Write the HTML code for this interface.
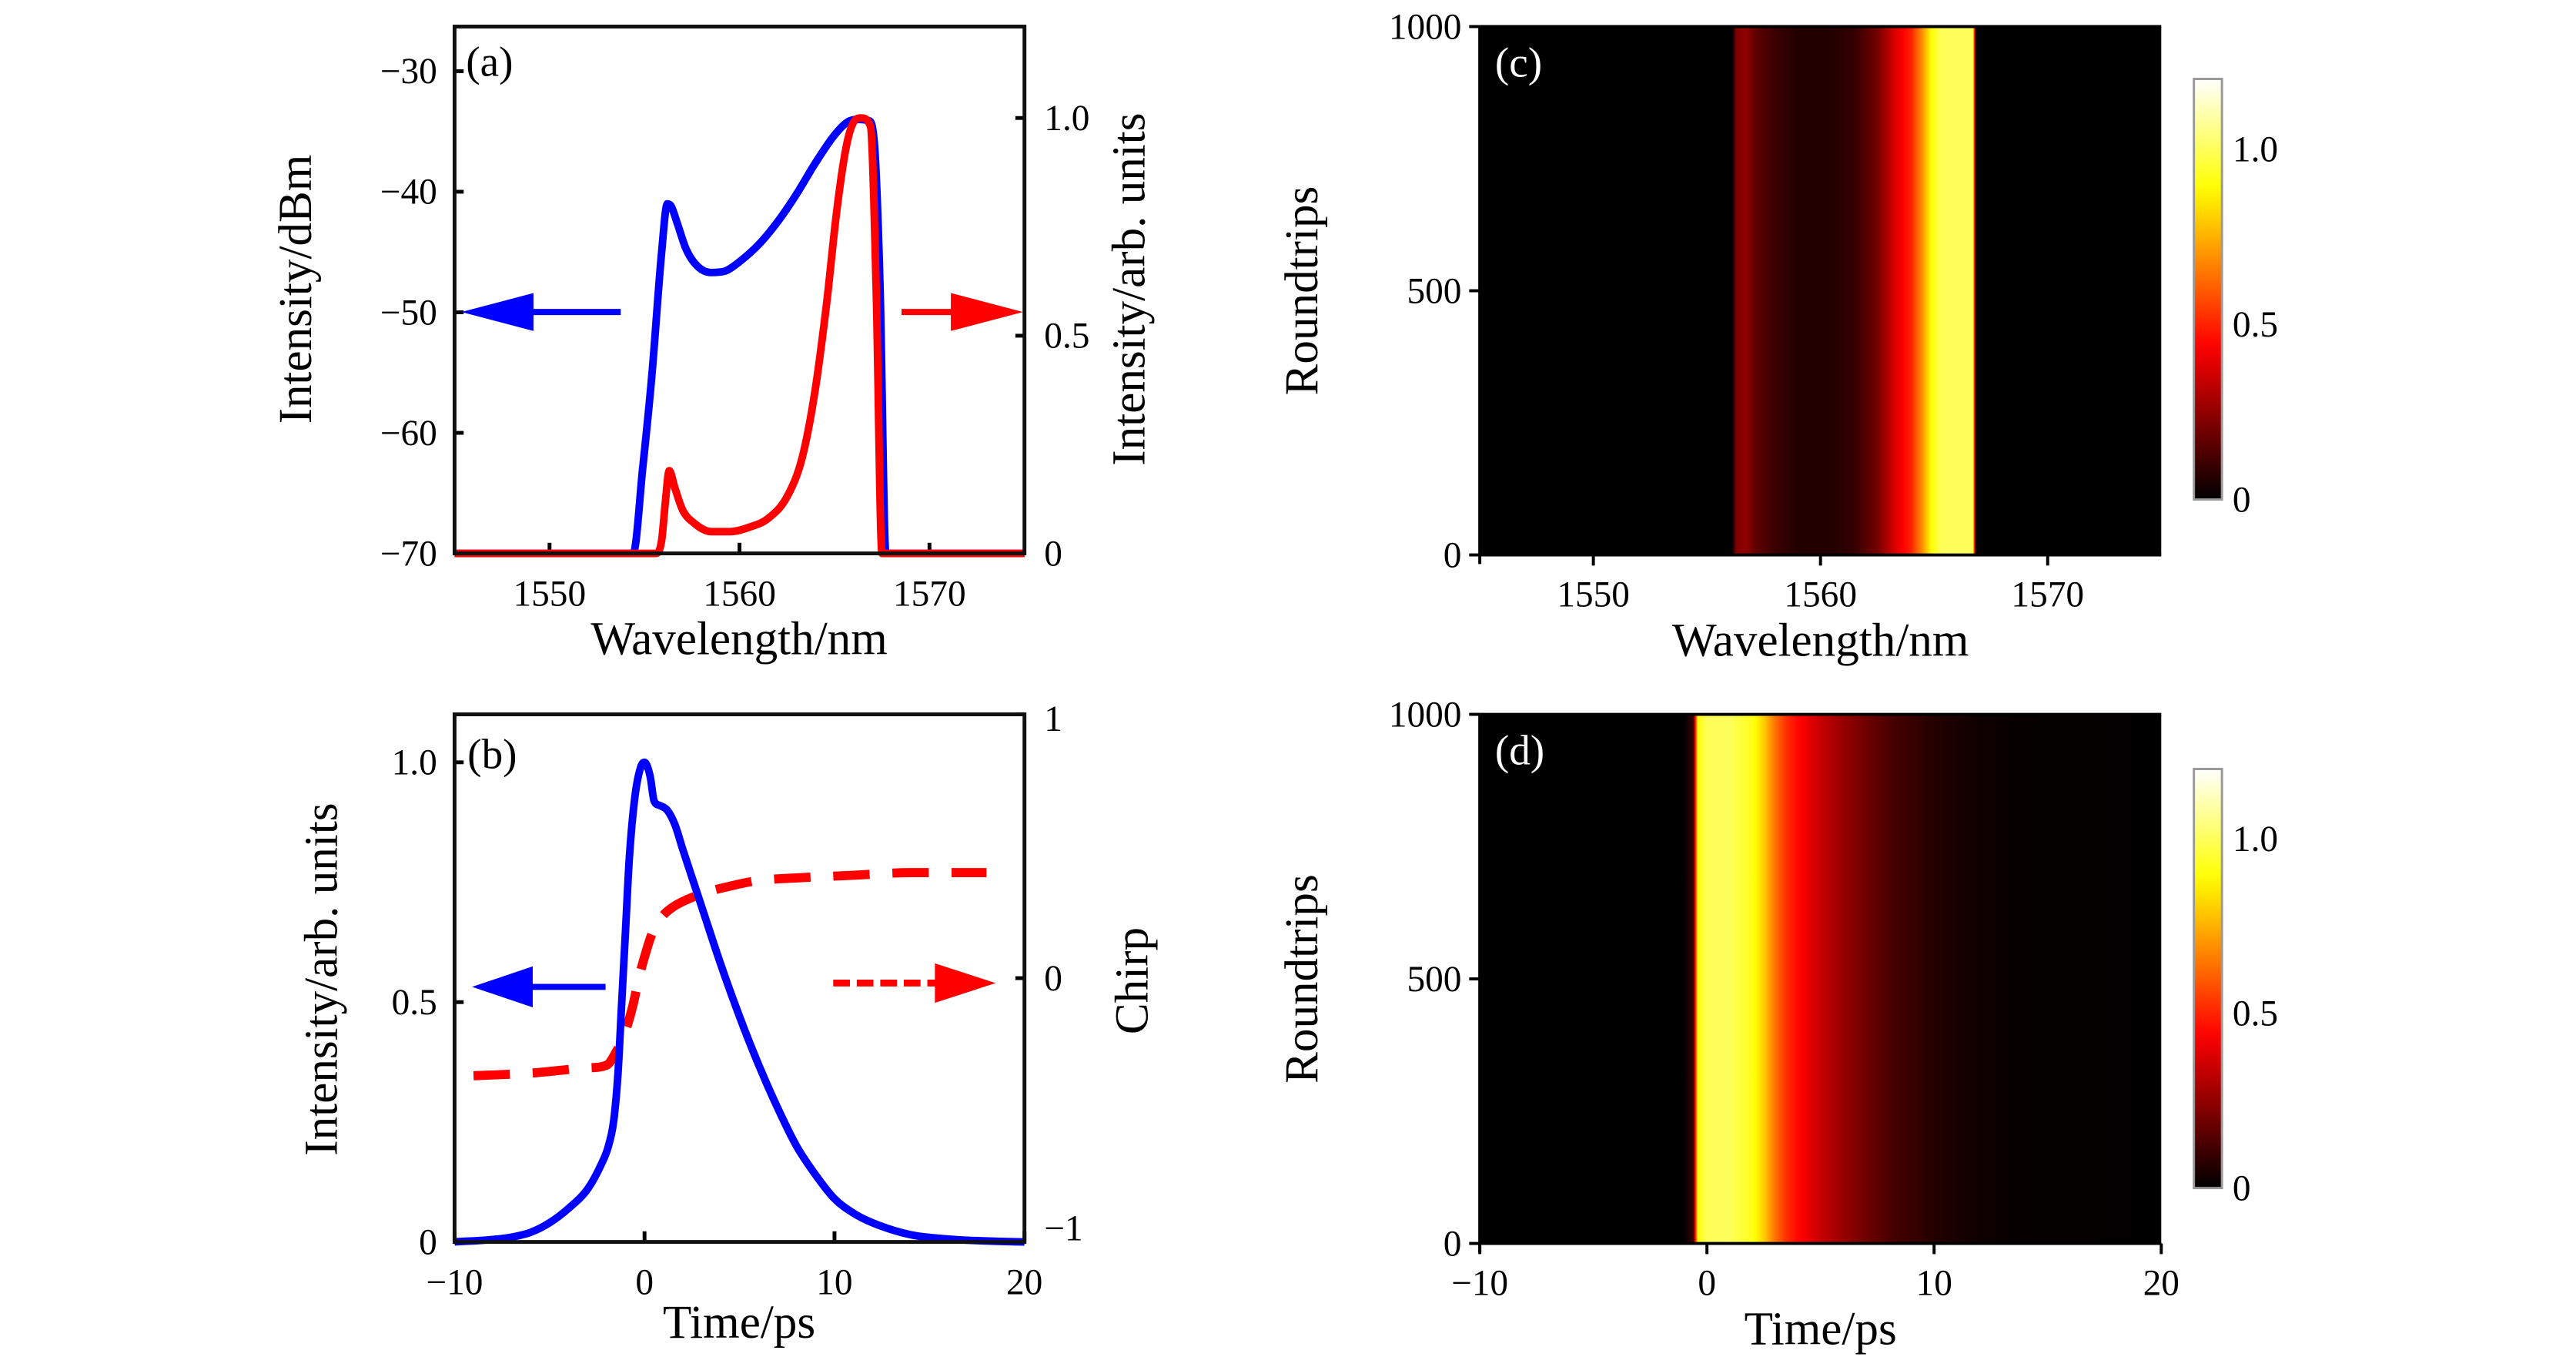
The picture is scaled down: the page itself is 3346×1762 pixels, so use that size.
<!DOCTYPE html>
<html><head><meta charset="utf-8">
<style>
html,body{margin:0;padding:0;background:#fff;}
svg{display:block;font-family:"Liberation Serif",serif;}
</style></head>
<body>
<svg id="fig" width="3346" height="1762" viewBox="0 0 3346 1762" xmlns="http://www.w3.org/2000/svg">
<defs id="defs"></defs>
<g id="root" transform="scale(0.9857)"></g>
</svg>
<script>
// Panel (a) data
const specWl = [1545,1554.4,1554.9,1555.4,1555.9,1556.2,1556.4,1556.7,1557.2,1557.8,1558.5,1559.2,1560,1561,1562,1563,1564,1565,1565.7,1566.2,1566.8,1567.1,1567.4,1567.7,1568,1575];
const specDbm = [-70,-70,-63,-55,-45,-41,-41.2,-42.5,-44.8,-46.2,-46.7,-46.6,-45.8,-44.4,-42.5,-40.2,-37.6,-35.3,-34.2,-34,-34.1,-36,-48,-70,-70,-70];
const specLinWl = [1545,1555.6,1555.9,1556.1,1556.3,1556.6,1557,1557.6,1558.5,1559.5,1560.5,1561.5,1562.5,1563.3,1564,1564.6,1565.1,1565.6,1566,1566.4,1566.9,1567.2,1567.5,1575];
const specLin = [0,0,0.03,0.12,0.19,0.15,0.1,0.07,0.05,0.05,0.06,0.08,0.13,0.22,0.38,0.58,0.78,0.93,0.99,1.0,0.98,0.6,0,0];
const aLeftTicks = [-30,-40,-50,-60,-70];
const aRightTicks = [0,0.5,1.0];
const aRightTickLabels = ["0","0.5","1.0"];
const wlTicks = [1550,1560,1570];
// Panel (b) data
const pulseT = [-10,-8,-7,-6,-5,-4,-3,-2.3,-1.9,-1.6,-1.4,-1.2,-1,-0.8,-0.5,-0.2,0,0.3,0.5,0.8,1.2,1.6,2,2.5,3,4,5,6,7,8,9,10,11,12,14,16,18,20];
const pulseI = [0,0.005,0.01,0.02,0.04,0.07,0.11,0.16,0.2,0.26,0.35,0.5,0.65,0.8,0.93,0.99,1.0,0.97,0.92,0.91,0.9,0.87,0.82,0.76,0.7,0.58,0.47,0.37,0.28,0.2,0.14,0.09,0.06,0.04,0.015,0.006,0.002,0];
const chirpT = [-9,-6,-3,-2,-1.5,-1,-0.6,-0.3,0,0.3,0.6,1,1.5,2,3,4,6,8,11,14,18];
const chirpV = [-0.37,-0.36,-0.34,-0.33,-0.28,-0.2,-0.1,0,0.08,0.15,0.2,0.24,0.27,0.29,0.32,0.34,0.37,0.38,0.39,0.4,0.4];
const bLeftTicks = [0,0.5,1.0];
const bLeftTickLabels = ["0","0.5","1.0"];
const bRightTicks = [-1,0,1];
const bRightTickLabels = ["\u22121","0","1"];
const timeTicks = [-10,0,10,20];
const timeTickLabels = ["\u221210","0","10","20"];
// Panel (c) data: heatmap intensity profile vs wavelength
const mapWl = [1545,1556.1,1556.3,1556.7,1557.2,1558,1559,1560.5,1561.5,1562.5,1563.3,1564,1564.5,1564.9,1565.3,1566,1566.7,1566.85,1575];
const mapWlVal = [0,0,0.22,0.25,0.16,0.1,0.06,0.06,0.09,0.2,0.38,0.5,0.7,0.9,1.0,1.0,1.0,0,0];
// Panel (d) data: heatmap intensity profile vs time
const mapT = [-10,-1,-0.6,-0.4,0,1,2,2.5,3,3.5,4,5,6,7,8,10,12,14,20];
const mapTVal = [0,0,0.1,0.9,1.0,1.0,0.92,0.8,0.64,0.52,0.45,0.34,0.26,0.19,0.13,0.06,0.025,0.01,0];
const rtTicks = [0,500,1000];
const cbTicks = [0,0.5,1.0];
const cbTickLabels = ["0","0.5","1.0"];

const NS = "http://www.w3.org/2000/svg";
const svg = document.getElementById('root');
const defs = document.getElementById('defs');
function el(tag, attrs, parent){
  const e = document.createElementNS(NS, tag);
  for (const k in attrs) e.setAttribute(k, attrs[k]);
  (parent||svg).appendChild(e);
  return e;
}
function lin(d0,d1,r0,r1){ return v => r0 + (v-d0)/(d1-d0)*(r1-r0); }
function txt(x,y,s,anchor,size,fill,rot,name){
  const t = el('text',{x:x,y:y,'font-size':size||44,'text-anchor':anchor||'middle',fill:fill||'#000'});
  if(rot) t.setAttribute('transform','rotate(-90 '+x+' '+y+')');
  t.textContent = s;
  
  
  return t;
}
function hot(v){ const n = Math.max(0,Math.min(1,v/1.2));
  const r = Math.min(1,n/0.365), g = Math.max(0,Math.min(1,(n-0.365)/0.375)), b = Math.max(0,Math.min(1,(n-0.74)/0.26));
  return 'rgb('+Math.round(r*255)+','+Math.round(g*255)+','+Math.round(b*255)+')'; }
// monotone cubic (Fritsch-Carlson) path, no overshoot
function path(xs,ys,fx,fy){
  const X = xs.map(fx), Y = ys.map(fy), n = X.length;
  const d = [], m = new Array(n);
  for(let i=0;i<n-1;i++) d.push((Y[i+1]-Y[i])/(X[i+1]-X[i]));
  m[0]=d[0]; m[n-1]=d[n-2];
  for(let i=1;i<n-1;i++){ m[i] = (d[i-1]*d[i]<=0) ? 0 : (d[i-1]+d[i])/2; }
  for(let i=0;i<n-1;i++){
    if(d[i]===0){ m[i]=0; m[i+1]=0; continue; }
    const a=m[i]/d[i], b=m[i+1]/d[i], s=a*a+b*b;
    if(s>9){ const t=3/Math.sqrt(s); m[i]=t*a*d[i]; m[i+1]=t*b*d[i]; }
  }
  let p='M'+X[0].toFixed(1)+','+Y[0].toFixed(1);
  for(let i=0;i<n-1;i++){
    const h=(X[i+1]-X[i])/3;
    p+='C'+(X[i]+h).toFixed(1)+','+(Y[i]+m[i]*h).toFixed(1)+' '+(X[i+1]-h).toFixed(1)+','+(Y[i+1]-m[i+1]*h).toFixed(1)+' '+X[i+1].toFixed(1)+','+Y[i+1].toFixed(1);
  }
  return p;
}
const TF=48, TT=62;

// ---------- Panel (a)
(function(){
  const L=599,R=1350,T=35,B=729;
  const x = lin(1545,1575,L,R), yl = lin(-70,-26.3,B,T), yr = lin(0,1.21,B,T);
  const g = el('g',{});  
  wlTicks.forEach(v=>{ const t=el('line',{x1:x(v),x2:x(v),y1:B,y2:B-14,stroke:'#000','stroke-width':5},g);  
    txt(x(v),798,String(v),'middle',TF,'#000',false,'x-tick-label'); });
  aLeftTicks.forEach(v=>{ const t=el('line',{x1:L,x2:L+12,y1:yl(v),y2:yl(v),stroke:'#000','stroke-width':5},g);  
    txt(576,yl(v)+16,'\u2212'+Math.abs(v),'end',TF,'#000',false,'y-left-tick-label'); });
  aRightTicks.forEach((v,i)=>{ const t=el('line',{x1:R,x2:R-12,y1:yr(v),y2:yr(v),stroke:'#000','stroke-width':5},g);  
    txt(1376,yr(v)+16,aRightTickLabels[i],'start',TF,'#000',false,'y-right-tick-label'); });
  const pb=el('path',{d:path(specWl,specDbm,x,yl),fill:'none',stroke:'#0000ff','stroke-width':10,'stroke-linejoin':'round'},g);
   
  const pr=el('path',{d:path(specLinWl,specLin,x,yr),fill:'none',stroke:'#ff0000','stroke-width':10,'stroke-linejoin':'round'},g);
   
  const f=el('rect',{x:L,y:T,width:R-L,height:B-T,fill:'none',stroke:'#111','stroke-width':5},g);
   
  const a1=el('g',{},g);  
  el('line',{x1:818,y1:411,x2:690,y2:411,stroke:'#0000ff','stroke-width':8},a1);
  el('polygon',{points:'608,411 703,386 703,436',fill:'#0000ff'},a1);
  const a2=el('g',{},g);  
  el('line',{x1:1188,y1:411,x2:1280,y2:411,stroke:'#ff0000','stroke-width':8},a2);
  el('polygon',{points:'1348,411 1253,386 1253,436',fill:'#ff0000'},a2);
  txt(614,100,'(a)','start',56,'#000',false,'panel-label-a');
  txt(410,381,'Intensity/dBm','middle',TT,'#000',true,'y-left-title');
  txt(1508,381,'Intensity/arb. units','middle',TT,'#000',true,'y-right-title');
  txt(974,862,'Wavelength/nm','middle',TT,'#000',false,'x-title');
})();

// ---------- Panel (b)
(function(){
  const L=599,R=1350,T=941,B=1636;
  const x = lin(-10,20,L,R), yl = lin(0,1.1,B,T), yr = lin(-1,1,B,T);
  const g = el('g',{});  
  timeTicks.forEach((v,i)=>{ const t=el('line',{x1:x(v),x2:x(v),y1:B,y2:B-14,stroke:'#000','stroke-width':5},g);  
    txt(x(v),1705,timeTickLabels[i],'middle',TF,'#000',false,'x-tick-label'); });
  bLeftTicks.forEach((v,i)=>{ const t=el('line',{x1:L,x2:L+12,y1:yl(v),y2:yl(v),stroke:'#000','stroke-width':5},g);  
    txt(576,yl(v)+16,bLeftTickLabels[i],'end',TF,'#000',false,'y-left-tick-label'); });
  bRightTicks.forEach((v,i)=>{ const t=el('line',{x1:R,x2:R-12,y1:yr(v),y2:yr(v),stroke:'#000','stroke-width':5},g);  
    let yy = yr(v)+16; if(v===1) yy=yr(v)+22; if(v===-1) yy=yr(v)-2;
    txt(1376,yy,bRightTickLabels[i],'start',TF,'#000',false,'y-right-tick-label'); });
  const pr=el('path',{d:path(chirpT,chirpV,x,yr),fill:'none',stroke:'#ff0000','stroke-width':12,'stroke-dasharray':'48 30'},g);
   
  const pb=el('path',{d:path(pulseT,pulseI,x,yl),fill:'none',stroke:'#0000ff','stroke-width':10,'stroke-linejoin':'round'},g);
   
  const f=el('rect',{x:L,y:T,width:R-L,height:B-T,fill:'none',stroke:'#111','stroke-width':5},g);
   
  const a1=el('g',{},g);  
  el('line',{x1:798,y1:1300,x2:690,y2:1300,stroke:'#0000ff','stroke-width':8},a1);
  el('polygon',{points:'622,1300 702,1273 702,1327',fill:'#0000ff'},a1);
  const a2=el('g',{},g);  
  el('line',{x1:1098,y1:1295,x2:1240,y2:1295,stroke:'#ff0000','stroke-width':9,'stroke-dasharray':'22 9'},a2);
  el('polygon',{points:'1312,1295 1232,1269 1232,1321',fill:'#ff0000'},a2);
  txt(616,1012,'(b)','start',56,'#000',false,'panel-label-b');
  txt(444,1290,'Intensity/arb. units','middle',TT,'#000',true,'y-left-title');
  txt(1512,1292,'Chirp','middle',TT,'#000',true,'y-right-title');
  txt(974,1762,'Time/ps','middle',TT,'#000',false,'x-title');
})();

// ---------- heatmaps
function heat(id,L,R,T,B,xs,vals,d0,d1,ticks,tickLabels,xtitle,label,cbT,cbB){
  const x = lin(d0,d1,L,R), y = lin(0,1000,B,T);
  const g = el('g',{});  
  const gr = el('linearGradient',{id:'grad-'+id,x1:0,x2:1,y1:0,y2:0},defs);
  for(let i=0;i<xs.length;i++){
    const nsub = i<xs.length-1 ? 6 : 1;
    for(let k=0;k<nsub;k++){
      const f = k/nsub; const xv = i<xs.length-1 ? xs[i]+(xs[i+1]-xs[i])*f : xs[i];
      const vv = i<xs.length-1 ? vals[i]+(vals[i+1]-vals[i])*f : vals[i];
      el('stop',{offset:((xv-d0)/(d1-d0)).toFixed(5),'stop-color':hot(vv)},gr);
    }
  }
  const r=el('rect',{x:L,y:T,width:R-L,height:B-T,fill:'url(#grad-'+id+')'},g);
   
  el('line',{x1:L,x2:R,y1:T,y2:T,stroke:'#000','stroke-width':4},g);
  el('line',{x1:L,x2:R,y1:B,y2:B,stroke:'#000','stroke-width':4},g);
  el('line',{x1:L,x2:L,y1:T,y2:B+12,stroke:'#000','stroke-width':4},g);
  ticks.forEach((v,i)=>{ const t=el('line',{x1:x(v),x2:x(v),y1:B,y2:B+14,stroke:'#000','stroke-width':4},g);  
    txt(x(v),B+68,tickLabels[i],'middle',TF,'#000',false,'x-tick-label'); });
  rtTicks.forEach(v=>{ const t=el('line',{x1:L-14,x2:L,y1:y(v),y2:y(v),stroke:'#000','stroke-width':4},g);  
    txt(L-24,y(v)+16,String(v),'end',TF,'#000',false,'y-tick-label'); });
  txt(L+20,T+66,label,'start',56,'#fff',false,'panel-label-'+id);
  txt(1736,(T+B)/2,'Roundtrips','middle',TT,'#000',true,'y-title');
  txt((L+R)/2,B+133,xtitle,'middle',TT,'#000',false,'x-title');
  const cbL=2891, cbR=2928; const cy = lin(0,1.2,cbB,cbT);
  const cg = el('linearGradient',{id:'cb-'+id,x1:0,x2:0,y1:1,y2:0},defs);
  for(let k=0;k<=24;k++){ el('stop',{offset:k/24,'stop-color':hot(1.2*k/24)},cg); }
  const cb=el('rect',{x:cbL,y:cbT,width:cbR-cbL,height:cbB-cbT,fill:'url(#cb-'+id+')',stroke:'#999','stroke-width':3},g);
   
  cbTicks.forEach((v,i)=>txt(2942,cy(v)+16,cbTickLabels[i],'start',TF,'#000',false,'colorbar-tick-label'));
}
heat('c',1950,2848,35,731,mapWl,mapWlVal,1545,1575,wlTicks,wlTicks.map(String),'Wavelength/nm','(c)',104,658);
heat('d',1950,2848,941,1638,mapT,mapTVal,-10,20,timeTicks,timeTickLabels,'Time/ps','(d)',1013,1565);
</script>
</body></html>
